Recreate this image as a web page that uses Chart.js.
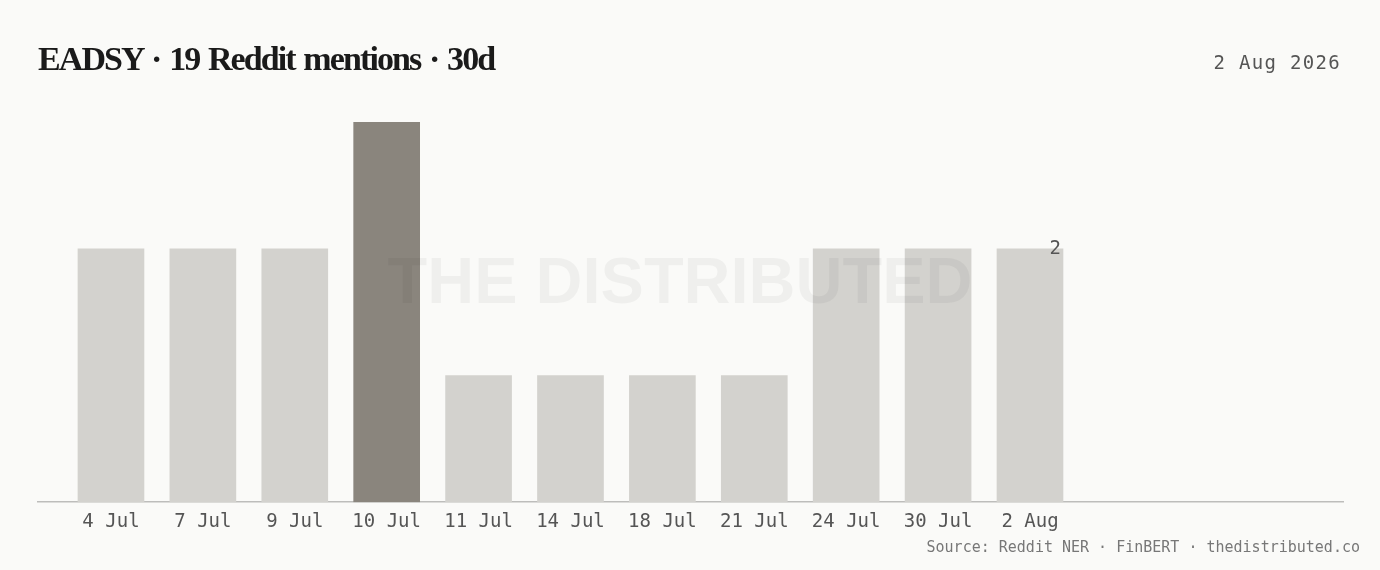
<!DOCTYPE html>
<html>
<head>
<meta charset="utf-8">
<script src="https://cdn.jsdelivr.net/npm/chart.js@4/dist/chart.umd.min.js"></script>
<style>
  html, body { margin: 0; padding: 0; background: #fafaf8; }
  body { width: 1380px; height: 570px; position: relative; overflow: hidden; }
  #title { position: absolute; left: 38px; top: 36px; font-family: "Liberation Serif", serif; font-weight: 700; font-size: 34px; letter-spacing: -1.9px; word-spacing: 2px; color: #1a1a1a; white-space: nowrap; line-height: 45px; }
  #date { position: absolute; right: 39px; top: 50px; font-family: "DejaVu Sans Mono", monospace; font-size: 19px; letter-spacing: 1.3px; color: #555; white-space: nowrap; line-height: 24px; }
  #source { position: absolute; right: 20px; top: 537px; font-family: "DejaVu Sans Mono", monospace; font-size: 15px; color: #777; white-space: nowrap; line-height: 20px; }
  #wrap { position: absolute; left: 0; top: 0; width: 1380px; height: 570px; }
</style>
</head>
<body>
<div id="wrap"><canvas id="c" width="1380" height="570"></canvas></div>
<div id="title">EADSY · 19 Reddit mentions · 30d</div>
<div id="date">2 Aug 2026</div>
<div id="source">Source: Reddit NER · FinBERT · thedistributed.co</div>
<script>
const categories = ["4 Jul", "7 Jul", "9 Jul", "10 Jul", "11 Jul", "14 Jul", "18 Jul", "21 Jul", "24 Jul", "30 Jul", "2 Aug"];
const mentions = [2, 2, 2, 3, 1, 1, 1, 1, 2, 2, 2];
const highlightIndex = 3;
const labelIndex = 10;

const LIGHT = "#d3d2ce";
const DARK = "#8a857d";

const watermark = {
  id: "watermark",
  afterDatasetsDraw(chart) {
    const ctx = chart.ctx;
    ctx.save();
    ctx.font = "bold 65px 'Liberation Sans', Arial, sans-serif";
    ctx.fillStyle = "rgba(0,0,0,0.045)";
    ctx.textAlign = "center";
    ctx.textBaseline = "middle";
    ctx.fillText("THE DISTRIBUTED", chart.width / 2 - 10, chart.height / 2);
    ctx.restore();
  }
};

const valueLabel = {
  id: "valueLabel",
  afterDatasetsDraw(chart) {
    const meta = chart.getDatasetMeta(0);
    const bar = meta.data[labelIndex];
    if (!bar) return;
    const ctx = chart.ctx;
    ctx.save();
    ctx.font = "19px 'DejaVu Sans Mono', monospace";
    ctx.fillStyle = "#555";
    ctx.textAlign = "right";
    ctx.textBaseline = "middle";
    ctx.fillText(String(mentions[labelIndex]), bar.x + bar.width / 2 - 2, bar.y);
    ctx.restore();
  }
};

new Chart(document.getElementById("c"), {
  type: "bar",
  data: {
    datasets: [{
      data: categories.map((c, i) => ({ x: i, y: mentions[i] })),
      backgroundColor: categories.map((c, i) => i === highlightIndex ? DARK : LIGHT),
      barThickness: 66,
      borderWidth: 0
    }]
  },
  options: {
    responsive: false,
    animation: false,
    layout: { padding: { left: 38, right: 37, top: 122, bottom: 29 } },
    plugins: { legend: { display: false }, tooltip: { enabled: false } },
    scales: {
      x: {
        type: "linear",
        offset: false,
        bounds: "ticks",
        min: -0.794,
        max: 13.406,
        grid: { display: false, drawTicks: false },
        border: { display: true, color: "#bdbdbb", width: 1.5 },
        afterBuildTicks(scale) { scale.ticks = categories.map((c, i) => ({ value: i })); },
        ticks: {
          autoSkip: false,
          maxRotation: 0,
          padding: 8,
          color: "#555",
          font: { family: "'DejaVu Sans Mono', monospace", size: 19 },
          callback: (v) => categories[v] ?? ""
        }
      },
      y: {
        display: false,
        min: 0,
        max: 3
      }
    }
  },
  plugins: [watermark, valueLabel]
});
</script>
</body>
</html>
